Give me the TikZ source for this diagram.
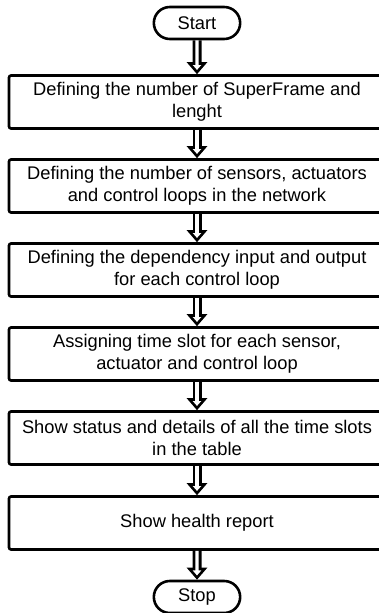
\documentclass[tikz,border=0pt]{standalone}
\usepackage{fontspec}
\setmainfont{Liberation Sans}
\usetikzlibrary{positioning,arrows.meta,shapes.misc}
\tikzstyle{block} = [draw, line width=2.6pt, rectangle, rounded corners=2pt, minimum height=53pt, minimum width=376pt, align=center, inner sep=2pt, font=\fontsize{18.3pt}{22pt}\selectfont]
\tikzstyle{term} = [draw, line width=2.6pt, rounded rectangle, minimum height=32pt, minimum width=93pt, font=\fontsize{18.3pt}{22pt}\selectfont]
\tikzset{flow/.style={line width=9pt, -{Triangle[open, fill=white, width=20pt, length=12pt, line width=2.6pt]},
    postaction={draw=white, line width=3.2pt, -, shorten >=7pt}}}

\begin{document}
\begin{tikzpicture}[node distance=84pt]
        \useasboundingbox (0,0) rectangle (379pt,-613pt);
        \node [term] at (197pt,-23pt) (start) {Start};
        \node [block, below of=start, node distance=79pt] (frame) {Defining the number of SuperFrame and\\lenght};
        \node [block, below of=frame] (nodes) {Defining the number of sensors, actuators\\and control loops in the network};
        \node [block, below of=nodes] (dep) {Defining the dependency input and output\\for each control loop};
        \node [block, below of=dep] (slot) {Assigning time slot for each sensor,\\actuator and control loop};
        \node [block, below of=slot] (table) {Show status and details of all the time slots\\in the table};
        \node [block, below of=table, node distance=85pt] (health) {Show health report};
        \node [term, below of=health, node distance=74pt] (stop) {Stop};

        \draw [flow] (start) -- (frame);
        \draw [flow] (frame) -- (nodes);
        \draw [flow] (nodes) -- (dep);
        \draw [flow] (dep) -- (slot);
        \draw [flow] (slot) -- (table);
        \draw [flow] (table) -- (health);
        \draw [flow] (health) -- (stop);
\end{tikzpicture}
\end{document}
